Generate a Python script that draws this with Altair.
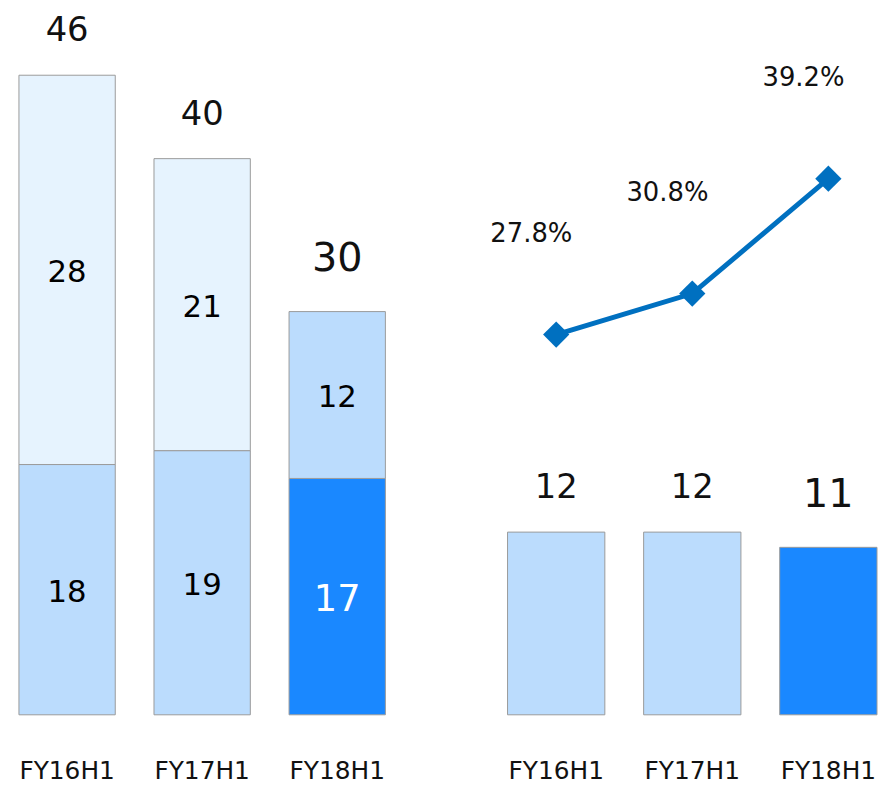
import altair as alt
import pandas as pd

# ---- data ----
periods = ["FY16H1", "FY17H1", "FY18H1"]
lower_vals = [18, 19, 17]          # bottom segments (left panel)
upper_vals = [28, 21, 12]          # top segments (left panel)
total_labels = ["46", "40", "30"]  # labels printed above the stacked bars
right_vals = [12, 12, 11]          # right panel bars
ratio_vals = [27.8, 30.8, 39.2]    # line (percent)
current = "FY18H1"                 # highlighted period

FONT = "DejaVu Sans"
PALE = "#e6f3fe"
LIGHT = "#bbdcfd"
DARK = "#1a88ff"
LINE = "#0070c0"
EDGE = "#9a9a9a"

# ---- tables ----
rows = []
for p, lo, up in zip(periods, lower_vals, upper_vals):
    hl = p == current
    rows.append(dict(period=p, seg="lower", order=1, value=lo, mid=lo / 2,
                     shade="dark" if hl else "light",
                     tcolor="white" if hl else "black", fs=37 if hl else 31))
    rows.append(dict(period=p, seg="upper", order=2, value=up, mid=lo + up / 2,
                     shade="light" if hl else "pale",
                     tcolor="black", fs=31))
stack_df = pd.DataFrame(rows)

tot_df = pd.DataFrame(dict(period=periods,
                           total=[a + b for a, b in zip(lower_vals, upper_vals)],
                           label=total_labels,
                           hl=[p == current for p in periods]))

right_df = pd.DataFrame(dict(period=periods, value=right_vals,
                             label=[str(v) for v in right_vals],
                             shade=["dark" if p == current else "light" for p in periods],
                             hl=[p == current for p in periods]))

ratio_df = pd.DataFrame(dict(period=periods, ratio=ratio_vals,
                             label=[f"{v:.1f}%" for v in ratio_vals]))

shade_scale = alt.Scale(domain=["pale", "light", "dark"], range=[PALE, LIGHT, DARK])

xaxis = alt.Axis(title=None, labelAngle=0, ticks=False, tickSize=0, domain=False,
                 labelFontSize=25, labelFont=FONT, labelColor="#111111",
                 labelPadding=44)

H = 709

# ---- left panel ----
yL = alt.Scale(domain=[0, H / 14.0], nice=False, zero=True)
xl = alt.X("period:N", sort=periods,
           scale=alt.Scale(paddingInner=0.2868, paddingOuter=0.081), axis=xaxis)

left_bars = alt.Chart(stack_df).mark_bar(stroke=EDGE, strokeWidth=1).encode(
    x=xl,
    y=alt.Y("value:Q", stack="zero", scale=yL, axis=None),
    color=alt.Color("shade:N", scale=shade_scale, legend=None),
    order=alt.Order("order:Q"),
)
left_inner = alt.Chart(stack_df).mark_text(baseline="middle", dy=3, font=FONT).encode(
    x=xl,
    y=alt.Y("mid:Q", scale=yL, axis=None),
    text=alt.Text("value:Q"),
    color=alt.Color("tcolor:N", scale=None),
    size=alt.Size("fs:Q", scale=None),
)
left_top_n = alt.Chart(tot_df).transform_filter("!datum.hl").mark_text(
    baseline="alphabetic", dy=-34, fontSize=34, font=FONT, color="#111111").encode(
    x=xl, y=alt.Y("total:Q", scale=yL, axis=None), text="label:N")
left_top_h = alt.Chart(tot_df).transform_filter("datum.hl").mark_text(
    baseline="alphabetic", dy=-41, fontSize=40, font=FONT, color="#111111").encode(
    x=xl, y=alt.Y("total:Q", scale=yL, axis=None), text="label:N")

left = alt.layer(left_bars, left_inner, left_top_n, left_top_h).properties(
    width=391, height=H)

# ---- right panel ----
yR = alt.Scale(domain=[0, H / 15.33], nice=False, zero=True)
yP = alt.Scale(domain=[0, H / 13.77], nice=False, zero=True)
xr = alt.X("period:N", sort=periods,
           scale=alt.Scale(paddingInner=0.285, paddingOuter=0.0401, align=1),
           axis=xaxis)

right_bars = alt.Chart(right_df).mark_bar(stroke=EDGE, strokeWidth=1).encode(
    x=xr,
    y=alt.Y("value:Q", scale=yR, axis=None),
    color=alt.Color("shade:N", scale=shade_scale, legend=None),
)
right_top_n = alt.Chart(right_df).transform_filter("!datum.hl").mark_text(
    baseline="alphabetic", dy=-34, fontSize=34, font=FONT, color="#111111").encode(
    x=xr, y=alt.Y("value:Q", scale=yR, axis=None), text="label:N")
right_top_h = alt.Chart(right_df).transform_filter("datum.hl").mark_text(
    baseline="alphabetic", dy=-41, fontSize=40, font=FONT, color="#111111").encode(
    x=xr, y=alt.Y("value:Q", scale=yR, axis=None), text="label:N")

line = alt.Chart(ratio_df).mark_line(color=LINE, strokeWidth=5).encode(
    x=xr, y=alt.Y("ratio:Q", scale=yP, axis=None))
pts = alt.Chart(ratio_df).mark_point(shape="diamond", filled=True, size=700,
                                     color=LINE, opacity=1).encode(
    x=xr, y=alt.Y("ratio:Q", scale=yP, axis=None))
ptxt = alt.Chart(ratio_df).mark_text(baseline="middle", dx=-25, dy=-101,
                                     fontSize=26, font=FONT, color="#111111").encode(
    x=xr, y=alt.Y("ratio:Q", scale=yP, axis=None), text="label:N")

right = alt.layer(right_bars, right_top_n, right_top_h, line, pts, ptxt).resolve_scale(
    y="independent").properties(width=383, height=H)

chart = alt.hconcat(left, right, spacing=94).properties(padding=0).configure_view(
    strokeWidth=0).configure_text(font=FONT)

chart.save("out.html", embed_options={"renderer": "svg", "actions": False})
